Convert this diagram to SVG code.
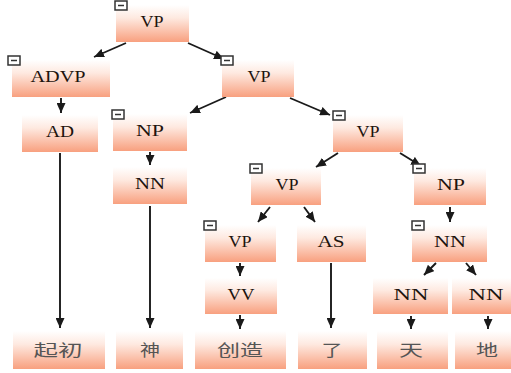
<svg xmlns="http://www.w3.org/2000/svg" width="511" height="373" viewBox="0 0 511 373">
  <defs>
    <linearGradient id="boxFill" x1="0" y1="0" x2="0" y2="1">
      <stop offset="0" stop-color="#ffffff"/>
      <stop offset="0.35" stop-color="#fee9e0"/>
      <stop offset="1" stop-color="#f8a07f"/>
    </linearGradient>
    <marker id="arrow" markerUnits="userSpaceOnUse" markerWidth="10" markerHeight="9" refX="10" refY="4.5" orient="auto">
      <path d="M0,0 L10,4.5 L0,9 z" fill="#1a1a1a"/>
    </marker>
  </defs>
  <style>
    .box { fill: url(#boxFill); }
    .lbl { font-family: "Liberation Serif", "Times New Roman", serif; font-size: 16px; fill: #1e140e; text-anchor: middle; }
    .word { font-family: "Noto Sans CJK SC", "Noto Sans", sans-serif; font-size: 16px; fill: #555555; text-anchor: middle; }
    .tg rect { fill: #ffffff; stroke: #333333; stroke-width: 1.5; }
    .tg line { stroke: #333333; stroke-width: 1.5; }
    .edges line { stroke: #1a1a1a; stroke-width: 1.9; marker-end: url(#arrow); }
  </style>
  <rect width="511" height="373" fill="#ffffff"/>

  <!-- connectors -->
  <g class="edges">
    <line x1="126" y1="43" x2="94" y2="57"/>
    <line x1="188" y1="43" x2="224" y2="59"/>
    <line x1="226" y1="97" x2="190" y2="113"/>
    <line x1="290" y1="98" x2="330" y2="115"/>
    <line x1="61" y1="98" x2="61" y2="113"/>
    <line x1="60" y1="153" x2="60" y2="328"/>
    <line x1="150" y1="152" x2="150" y2="165"/>
    <line x1="150" y1="206" x2="150" y2="328"/>
    <line x1="338" y1="153" x2="316" y2="167"/>
    <line x1="400" y1="153" x2="421" y2="166"/>
    <line x1="270" y1="207" x2="258" y2="222"/>
    <line x1="304" y1="207" x2="315" y2="222"/>
    <line x1="450" y1="207" x2="450" y2="222"/>
    <line x1="240" y1="263" x2="240" y2="276"/>
    <line x1="240" y1="315" x2="240" y2="329"/>
    <line x1="331" y1="263" x2="331" y2="328"/>
    <line x1="436" y1="263" x2="424" y2="275"/>
    <line x1="466" y1="263" x2="476" y2="275"/>
    <line x1="411" y1="316" x2="411" y2="329"/>
    <line x1="488" y1="316" x2="488" y2="329"/>
  </g>

  <!-- phrase nodes -->
  <g id="vp0">
    <rect class="box" x="116" y="5" width="73" height="37"/>
    <text class="lbl" x="152" y="27" textLength="23" lengthAdjust="spacingAndGlyphs">VP</text>
    <g class="tg"><rect x="115" y="1" width="12" height="9"/><line x1="118" y1="5.5" x2="124" y2="5.5"/></g>
  </g>
  <g id="advp">
    <rect class="box" x="12" y="60" width="98" height="37"/>
    <text class="lbl" x="58" y="82" textLength="55" lengthAdjust="spacingAndGlyphs">ADVP</text>
    <g class="tg"><rect x="8" y="56" width="12" height="9"/><line x1="11" y1="60.5" x2="17" y2="60.5"/></g>
  </g>
  <g id="vp1">
    <rect class="box" x="222" y="60" width="72" height="37"/>
    <text class="lbl" x="259" y="82" textLength="23" lengthAdjust="spacingAndGlyphs">VP</text>
    <g class="tg"><rect x="221" y="56" width="12" height="9"/><line x1="224" y1="60.5" x2="230" y2="60.5"/></g>
  </g>
  <g id="ad">
    <rect class="box" x="22" y="115" width="76" height="37"/>
    <text class="lbl" x="60" y="137" textLength="28" lengthAdjust="spacingAndGlyphs">AD</text>
  </g>
  <g id="np0">
    <rect class="box" x="113" y="114" width="74" height="37"/>
    <text class="lbl" x="150" y="136" textLength="28" lengthAdjust="spacingAndGlyphs">NP</text>
    <g class="tg"><rect x="112" y="110" width="12" height="9"/><line x1="115" y1="114.5" x2="121" y2="114.5"/></g>
  </g>
  <g id="vp2">
    <rect class="box" x="333" y="115" width="70" height="37"/>
    <text class="lbl" x="368" y="137" textLength="23" lengthAdjust="spacingAndGlyphs">VP</text>
    <g class="tg"><rect x="333" y="111" width="12" height="9"/><line x1="336" y1="115.5" x2="342" y2="115.5"/></g>
  </g>
  <g id="nn0">
    <rect class="box" x="113" y="167" width="74" height="37"/>
    <text class="lbl" x="150" y="189" textLength="30" lengthAdjust="spacingAndGlyphs">NN</text>
  </g>
  <g id="vp3">
    <rect class="box" x="251" y="168" width="70" height="37"/>
    <text class="lbl" x="287" y="190" textLength="23" lengthAdjust="spacingAndGlyphs">VP</text>
    <g class="tg"><rect x="250" y="164" width="12" height="9"/><line x1="253" y1="168.5" x2="259" y2="168.5"/></g>
  </g>
  <g id="np1">
    <rect class="box" x="414" y="168" width="72" height="37"/>
    <text class="lbl" x="451" y="190" textLength="28" lengthAdjust="spacingAndGlyphs">NP</text>
    <g class="tg"><rect x="413" y="164" width="12" height="9"/><line x1="416" y1="168.5" x2="422" y2="168.5"/></g>
  </g>
  <g id="vp4">
    <rect class="box" x="205" y="225" width="71" height="37"/>
    <text class="lbl" x="240" y="247" textLength="23" lengthAdjust="spacingAndGlyphs">VP</text>
    <g class="tg"><rect x="204" y="221" width="12" height="9"/><line x1="207" y1="225.5" x2="213" y2="225.5"/></g>
  </g>
  <g id="as">
    <rect class="box" x="297" y="225" width="69" height="37"/>
    <text class="lbl" x="331" y="247" textLength="27" lengthAdjust="spacingAndGlyphs">AS</text>
  </g>
  <g id="nn1">
    <rect class="box" x="412" y="225" width="75" height="37"/>
    <text class="lbl" x="450" y="247" textLength="32" lengthAdjust="spacingAndGlyphs">NN</text>
    <g class="tg"><rect x="412" y="221" width="12" height="9"/><line x1="415" y1="225.5" x2="421" y2="225.5"/></g>
  </g>
  <g id="vv">
    <rect class="box" x="205" y="278" width="72" height="36"/>
    <text class="lbl" x="241" y="300" textLength="27" lengthAdjust="spacingAndGlyphs">VV</text>
  </g>
  <g id="nn2">
    <rect class="box" x="373" y="278" width="75" height="36"/>
    <text class="lbl" x="411" y="300" textLength="35" lengthAdjust="spacingAndGlyphs">NN</text>
  </g>
  <g id="nn3">
    <rect class="box" x="452" y="278" width="70" height="36"/>
    <text class="lbl" x="486" y="300" textLength="35" lengthAdjust="spacingAndGlyphs">NN</text>
  </g>

  <!-- word leaves -->
  <g id="w-qichu">
    <rect class="box" x="13" y="331" width="92" height="38"/>
    <text class="word" x="58" y="356" textLength="49" lengthAdjust="spacingAndGlyphs">起初</text>
  </g>
  <g id="w-shen">
    <rect class="box" x="116" y="331" width="67" height="38"/>
    <text class="word" x="150" y="356" textLength="20" lengthAdjust="spacingAndGlyphs">神</text>
  </g>
  <g id="w-chuangzao">
    <rect class="box" x="195" y="331" width="91" height="38"/>
    <text class="word" x="240" y="356" textLength="46" lengthAdjust="spacingAndGlyphs">创造</text>
  </g>
  <g id="w-le">
    <rect class="box" x="298" y="331" width="69" height="38"/>
    <text class="word" x="332" y="356" textLength="21" lengthAdjust="spacingAndGlyphs">了</text>
  </g>
  <g id="w-tian">
    <rect class="box" x="377" y="331" width="71" height="38"/>
    <text class="word" x="411" y="356" textLength="24" lengthAdjust="spacingAndGlyphs">天</text>
  </g>
  <g id="w-di">
    <rect class="box" x="455" y="331" width="66" height="38"/>
    <text class="word" x="487" y="356" textLength="22" lengthAdjust="spacingAndGlyphs">地</text>
  </g>
</svg>
